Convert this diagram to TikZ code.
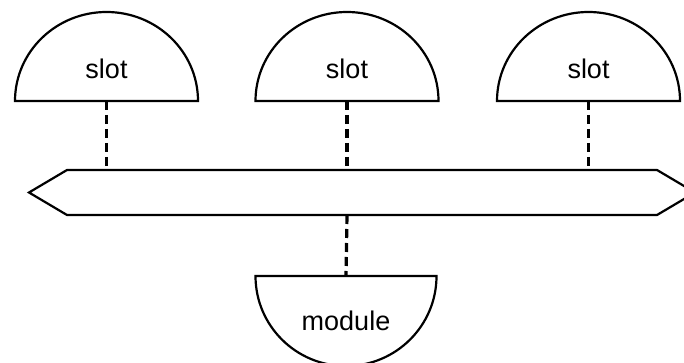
\documentclass[tikz,border=0pt]{standalone}
\usepackage{fontspec}
\setmainfont{Liberation Sans}
\begin{document}
\begin{tikzpicture}[x=1pt,y=-1pt,
  outline/.style={draw=black,line width=2.2pt,fill=white,line join=miter},
  link/.style={draw=black,line width=3.2pt,dash pattern=on 9pt off 5pt},
  lbl/.style={anchor=base,inner sep=0pt,font=\fontsize{27}{30}\selectfont}]
\useasboundingbox (0,0) rectangle (684,363);
\clip (0,0) rectangle (684,363);
% bus
\draw[outline] (29,192.5) -- (67,170) -- (657,170) -- (695,192.5) -- (657,215) -- (67,215) -- cycle;
\coordinate (b1) at (106.5,170);
\coordinate (b2) at (347,170);
\coordinate (b3) at (588.5,170);
\coordinate (bm) at (347,215);
% slots
\coordinate (s1) at (106.5,101);
\coordinate (s2) at (347,101);
\coordinate (s3) at (588.5,101);
\foreach \s in {s1,s2,s3}{
  \draw[outline] (\s) ++(-91.5,0) arc[start angle=180,end angle=360,x radius=91.5,y radius=89] -- cycle;
}
\node[lbl] (t1) at (106.5,79) {slot};
\node[lbl] (t2) at (347,79) {slot};
\node[lbl] (t3) at (588.5,79) {slot};
% module
\coordinate (m) at (346,276);
\draw[outline] (m) ++(-90.5,0) arc[start angle=180,end angle=0,x radius=90.5,y radius=90] -- cycle;
\node[lbl] (tm) at (346,330) {module};
% connectors
\draw[link] (s1) -- (b1);
\draw[link] (s2) -- (b2);
\draw[link] (s3) -- (b3);
\draw[link] (bm) -- (m);
\end{tikzpicture}
\end{document}
